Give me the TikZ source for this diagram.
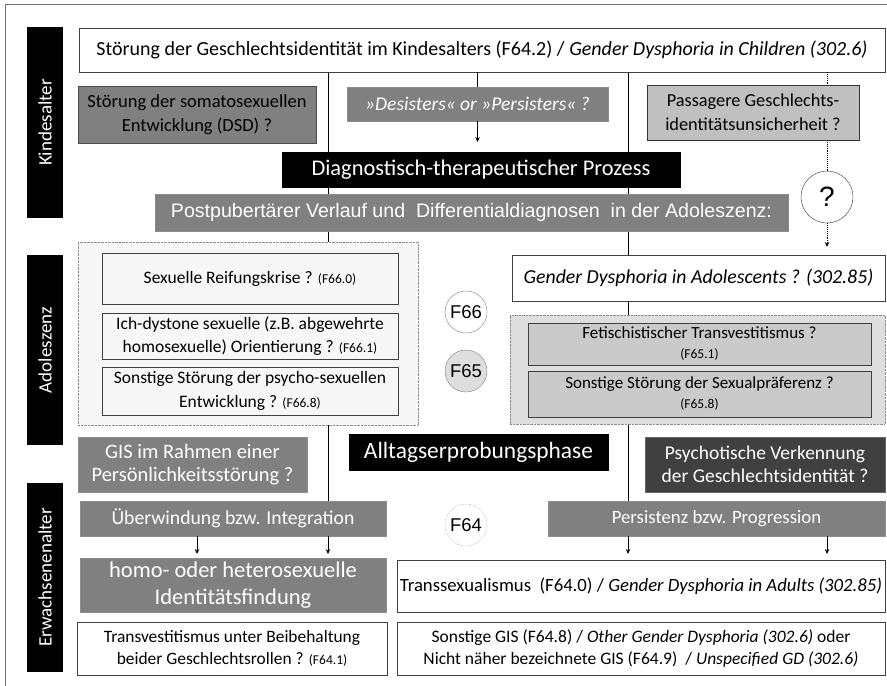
\documentclass[tikz,border=0pt]{standalone}
\usepackage{fontspec}
\setmainfont{Carlito}
\newfontfamily\arialfont{Liberation Sans}
\usetikzlibrary{arrows.meta,backgrounds}
\definecolor{midgray}{HTML}{808080}
\definecolor{lightgray}{HTML}{C0C0C0}
\definecolor{darkgray}{HTML}{404040}
\definecolor{paleshade}{HTML}{F7F7F7}
\definecolor{greyshade}{HTML}{DEDEDE}
\definecolor{greybox}{HTML}{CACACA}
\newcommand{\fsz}[2]{\fontsize{#1}{#2}\selectfont}
\newcommand{\icd}[1]{{\fsz{13.5}{15}#1}}
\tikzset{%
  box/.style={anchor=north west,inner sep=0pt,outer sep=0pt,align=center},
  whitebox/.style={box,draw=black!75,fill=white},
  midbox/.style={box,draw=black!45,fill=midgray,text=white},
  lightbox/.style={box,draw=black!80,fill=lightgray},
  darkbox/.style={box,draw=black!60,fill=darkgray,text=white},
  blackbox/.style={box,draw=black,fill=black,text=white},
  groupbox/.style={box,draw=black!45,densely dotted,fill=#1},
  agebar/.style={fill=black,text=white,rotate=90,inner sep=0pt,minimum height=36pt,font=\fsz{19}{22}},
  codecircle/.style={circle,draw=black!50,fill=#1,inner sep=0pt,minimum size=42pt,font=\arialfont\fsz{18.5}{20}},
  link/.style={line width=0.9pt},
  tip/.style={link,-{Stealth[length=5pt,width=4.5pt]}}%
}

\begin{document}
\begin{tikzpicture}[x=1pt,y=-1pt]
  \useasboundingbox (0,0) rectangle (887,686);
  \draw[black!55,line width=1pt] (5,686) -- (5,4) -- (887,4);

  % age bars
  \node (kind) [agebar,minimum width=191pt] at (45,122.5) {Kindesalter};
  \node (adol) [agebar,minimum width=190pt] at (45,350) {Adoleszenz};
  \node (erw) [agebar,minimum width=189pt] at (45,577.5) {Erwachsenenalter};

  % childhood
  \node (top) [whitebox,minimum width=806pt,minimum height=44pt,font=\fsz{20}{23}] at (79,28)
    {Störung der Geschlechtsidentität im Kindesalters (F64.2) / \textit{Gender Dysphoria in Children (302.6)}};
  \node (soma) [midbox,text=black,draw=black!70,minimum width=238pt,minimum height=57pt,font=\fsz{18.5}{24}] at (78,86)
    {Störung der somatosexuellen\\Entwicklung (DSD) ?};
  \node (des) [midbox,minimum width=261pt,minimum height=34pt,font=\fsz{19.5}{22}\itshape] at (347,87)
    {»Desisters« or »Persisters« ?};
  \node (pass) [lightbox,minimum width=212pt,minimum height=55pt,font=\fsz{18.3}{24}] at (647,85)
    {Passagere Geschlechts-\\identitätsunsicherheit ?};
  \node (diag) [blackbox,minimum width=398pt,minimum height=35pt,font=\fsz{22.4}{25}] at (282,152)
    {Diagnostisch-therapeutischer Prozess};
  \node (qm) [circle,draw=black!80,fill=white,inner sep=0pt,minimum size=52pt,font=\arialfont\fsz{28}{30}] at (827,197) {?};
  \node (post) [midbox,minimum width=633pt,minimum height=37pt,font=\arialfont\fsz{19.6}{22}] at (155,194)
    {Postpubertärer Verlauf und\ \ Differentialdiagnosen\ \ in der Adoleszenz:};

  % adolescence
  \node (left) [groupbox=paleshade,minimum width=340pt,minimum height=183pt] at (78,242) {};
  \node (sex1) [whitebox,fill=paleshade,minimum width=296pt,minimum height=51pt,font=\fsz{17.5}{23}] at (102,253)
    {Sexuelle Reifungskrise ? \icd{(F66.0)}};
  \node (sex2) [whitebox,fill=paleshade,minimum width=296pt,minimum height=46pt,font=\fsz{17.5}{23}] at (102,313)
    {Ich-dystone sexuelle (z.B. abgewehrte\\homosexuelle) Orientierung ? \icd{(F66.1)}};
  \node (sex3) [whitebox,fill=paleshade,minimum width=296pt,minimum height=48pt,font=\fsz{17.5}{24}] at (102,367)
    {Sonstige Störung der psycho-sexuellen\\Entwicklung ? \icd{(F66.8)}};
  \node (f66) [codecircle=white] at (466,312) {F66};
  \node (f65) [codecircle=greyshade] at (466,371) {F65};
  \node (gda) [whitebox,minimum width=373pt,minimum height=46pt,font=\fsz{19.8}{22}\itshape] at (512,255)
    {Gender Dysphoria in Adolescents ? (302.85)};
  \node (right) [groupbox=greyshade,minimum width=375pt,minimum height=109pt] at (510,315) {};
  \node (fet) [whitebox,fill=greybox,minimum width=343pt,minimum height=42pt,font=\fsz{17}{20}] at (528,323)
    {Fetischistischer Transvestitismus ?\\\icd{(F65.1)}};
  \node (pref) [whitebox,fill=greybox,minimum width=343pt,minimum height=46pt,font=\fsz{17}{20}] at (528,371)
    {Sonstige Störung der Sexualpräferenz ?\\\icd{(F65.8)}};

  % transition
  \node (gis) [midbox,minimum width=229pt,minimum height=55pt,font=\fsz{20.5}{23}] at (78,437)
    {GIS im Rahmen einer\\Persönlichkeitsstörung ?};
  \node (allt) [blackbox,minimum width=259pt,minimum height=36pt,font=\fsz{23.4}{26}] at (349,434)
    {Alltagserprobungsphase};
  \node (psy) [darkbox,minimum width=240pt,minimum height=55pt,font=\fsz{19.5}{23}] at (645,437)
    {Psychotische Verkennung\\der Geschlechtsidentität ?};

  % adulthood
  \node (uber) [midbox,minimum width=306pt,minimum height=35pt,font=\fsz{19.7}{22}] at (80,501)
    {Überwindung bzw. Integration};
  \node (f64) [codecircle=white,densely dotted] at (466,525) {F64};
  \node (pers) [midbox,minimum width=337pt,minimum height=35pt,font=\fsz{18.8}{22}] at (548,501)
    {Persistenz bzw. Progression};
  \node (homo) [midbox,minimum width=306pt,minimum height=54pt,font=\fsz{22.5}{27}] at (80,558)
    {homo- oder heterosexuelle\\Identitätsfindung};
  \node (tsex) [whitebox,minimum width=488pt,minimum height=52pt,font=\fsz{18.7}{21}] at (397,560)
    {Transsexualismus\ \ (F64.0) / \textit{Gender Dysphoria in Adults (302.85)}};
  \node (tvest) [whitebox,minimum width=310pt,minimum height=53pt,font=\fsz{17.4}{22}] at (77,622)
    {Transvestitismus unter Beibehaltung\\beider Geschlechtsrollen ? \icd{(F64.1)}};
  \node (other) [whitebox,minimum width=488pt,minimum height=53pt,font=\fsz{17.5}{22}] at (397,622)
    {Sonstige GIS (F64.8) / \textit{Other Gender Dysphoria (302.6)} oder\\
     Nicht näher bezeichnete GIS (F64.9)\ \ / \textit{Unspecified GD (302.6)}};

  % connectors
  \coordinate (lline) at (328,0);
  \coordinate (rline) at (628,0);
  \coordinate (larrow) at (197,0);
  \begin{scope}[on background layer]
    \draw[link] (top.south -| lline) -- (uber.north -| lline);
    \draw[link] (top.south -| rline) -- (pers.north -| rline);
  \end{scope}
  \draw[link] (top.south -| des) -- (des.north);
  \draw[tip,shorten >=10pt] (des.south) -- (diag.north -| des.south);
  \draw[link,densely dotted] (top.south -| qm) -- (pass.north -| qm);
  \draw[link,densely dotted] (pass.south -| qm) -- (qm.north);
  \draw[tip,densely dotted,shorten >=8pt] (qm.south) -- (gda.north -| qm);
  \draw[tip,shorten >=4pt] (uber.south -| larrow) -- (homo.north -| larrow);
  \draw[tip,shorten >=4pt] (uber.south -| lline) -- (homo.north -| lline);
  \draw[tip,shorten >=6pt] (pers.south -| rline) -- (tsex.north -| rline);
  \draw[tip,shorten >=6pt] (pers.south -| qm) -- (tsex.north -| qm);
\end{tikzpicture}
\end{document}
